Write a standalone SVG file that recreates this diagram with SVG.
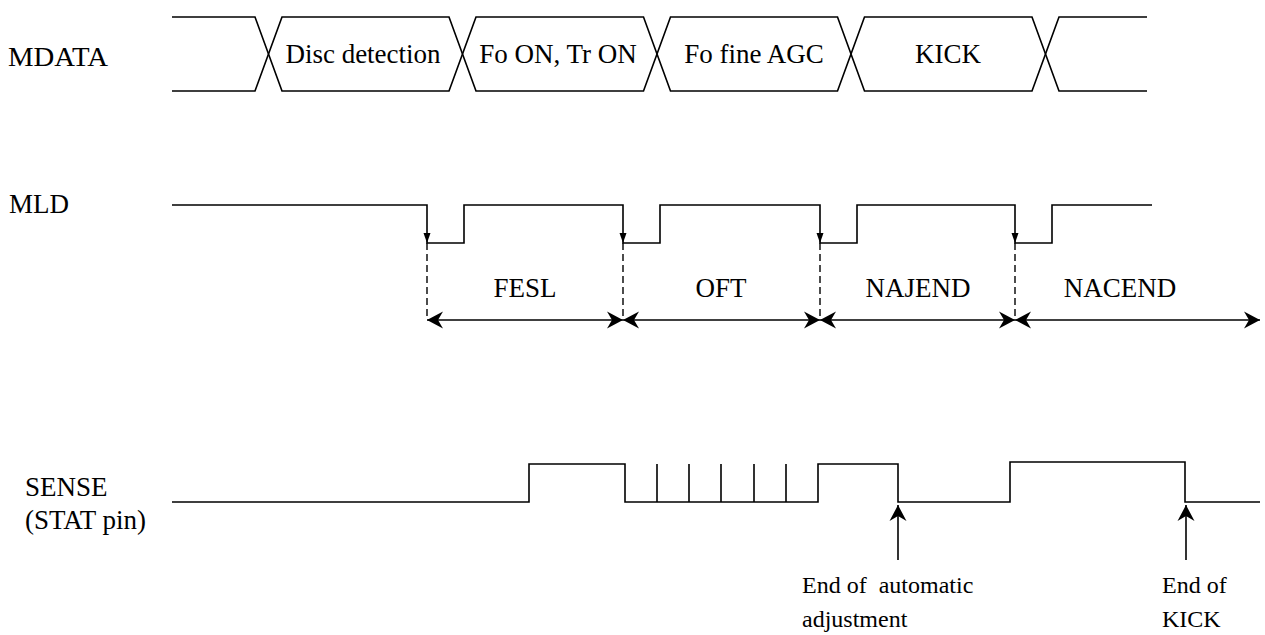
<svg xmlns="http://www.w3.org/2000/svg" width="1265" height="635" viewBox="0 0 1265 635">
  <style>
    .w { fill: none; stroke: #000; stroke-width: 1.6; stroke-linejoin: miter; }
    .t { font-family: "Liberation Serif", "Times New Roman", serif; font-size: 27px; fill: #000; }
    .s { font-family: "Liberation Serif", "Times New Roman", serif; font-size: 24px; fill: #000; }
    .m { text-anchor: middle; }
    .d { stroke: #000; stroke-width: 1.4; stroke-dasharray: 7 4; fill: none; }
    .a { stroke: #000; stroke-width: 1.6; fill: none; }
  </style>
  <defs>
    <marker id="stealth" viewBox="-17 -9 18 18" refX="0" refY="0" markerWidth="18" markerHeight="18" markerUnits="userSpaceOnUse" orient="auto-start-reverse">
      <path d="M0,0 L-16,-8.5 L-11,0 L-16,8.5 Z" fill="#000"/>
    </marker>
    <path id="tick" d="M0,0 L-3.5,-10 L3.5,-10 Z" fill="#000"/>
  </defs>
  <rect width="1265" height="635" fill="#fff"/>

  <g id="labels">
    <text class="t" x="8" y="66" textLength="100" lengthAdjust="spacingAndGlyphs">MDATA</text>
    <text class="t" x="9" y="213">MLD</text>
    <text class="t" x="25" y="496">SENSE</text>
    <text class="t" x="25" y="529">(STAT pin)</text>
  </g>

  <g id="mdata">
    <path class="w" d="M172,17 H255 L268.5,54 L255,91 H172"/>
    <g id="mdata-disc">
      <path class="w" d="M268.5,54 L282,17 H449 L462.5,54 L449,91 H282 Z"/>
      <text class="t m" x="363" y="63">Disc detection</text>
    </g>
    <g id="mdata-fo-on">
      <path class="w" d="M462.5,54 L476,17 H643.5 L657,54 L643.5,91 H476 Z"/>
      <text class="t m" x="558" y="63">Fo ON, Tr ON</text>
    </g>
    <g id="mdata-fine">
      <path class="w" d="M657,54 L670.5,17 H837.5 L851,54 L837.5,91 H670.5 Z"/>
      <text class="t m" x="754" y="63">Fo fine AGC</text>
    </g>
    <g id="mdata-kick">
      <path class="w" d="M851,54 L864.5,17 H1032 L1045.5,54 L1032,91 H864.5 Z"/>
      <text class="t m" x="948" y="63">KICK</text>
    </g>
    <path class="w" d="M1147,17 H1059 L1045.5,54 L1059,91 H1147"/>
  </g>

  <g id="mld">
    <path class="w" d="M172,205 H427 V243 H464 V205 H623 V243 H660 V205 H820 V243 H857 V205 H1015 V243 H1052 V205 H1152"/>
    <use href="#tick" x="427" y="243"/>
    <use href="#tick" x="623" y="243"/>
    <use href="#tick" x="820" y="243"/>
    <use href="#tick" x="1015" y="243"/>
  </g>

  <g id="sense">
    <path class="w" d="M172,502 H529 V464 H625 V502 H818 V464 H898 V502 H1010 V462 H1185 V502 H1260"/>
    <path class="w" d="M657,502 V464 M689,502 V464 M721,502 V464 M754,502 V464 M786,502 V464"/>
  </g>

  <g id="connectors">
    <path class="d" d="M427,243 V320 M623,243 V320 M820,243 V320 M1015,243 V320"/>
    <line class="a" x1="427" y1="320" x2="623" y2="320" marker-start="url(#stealth)" marker-end="url(#stealth)"/>
    <line class="a" x1="623" y1="320" x2="820" y2="320" marker-start="url(#stealth)" marker-end="url(#stealth)"/>
    <line class="a" x1="820" y1="320" x2="1015" y2="320" marker-start="url(#stealth)" marker-end="url(#stealth)"/>
    <line class="a" x1="1015" y1="320" x2="1260" y2="320" marker-start="url(#stealth)" marker-end="url(#stealth)"/>
    <line class="a" x1="898" y1="560" x2="898" y2="505" marker-end="url(#stealth)"/>
    <line class="a" x1="1186" y1="560" x2="1186" y2="505" marker-end="url(#stealth)"/>
  </g>

  <g id="period-labels">
    <text class="t m" x="525" y="297">FESL</text>
    <text class="t m" x="721" y="297">OFT</text>
    <text class="t m" x="918" y="297">NAJEND</text>
    <text class="t m" x="1120" y="297">NACEND</text>
  </g>

  <g id="annotations">
    <text class="s" x="802" y="593" xml:space="preserve">End of  automatic</text>
    <text class="s" x="802" y="627">adjustment</text>
    <text class="s" x="1162" y="593">End of</text>
    <text class="s" x="1162" y="627">KICK</text>
  </g>
</svg>
